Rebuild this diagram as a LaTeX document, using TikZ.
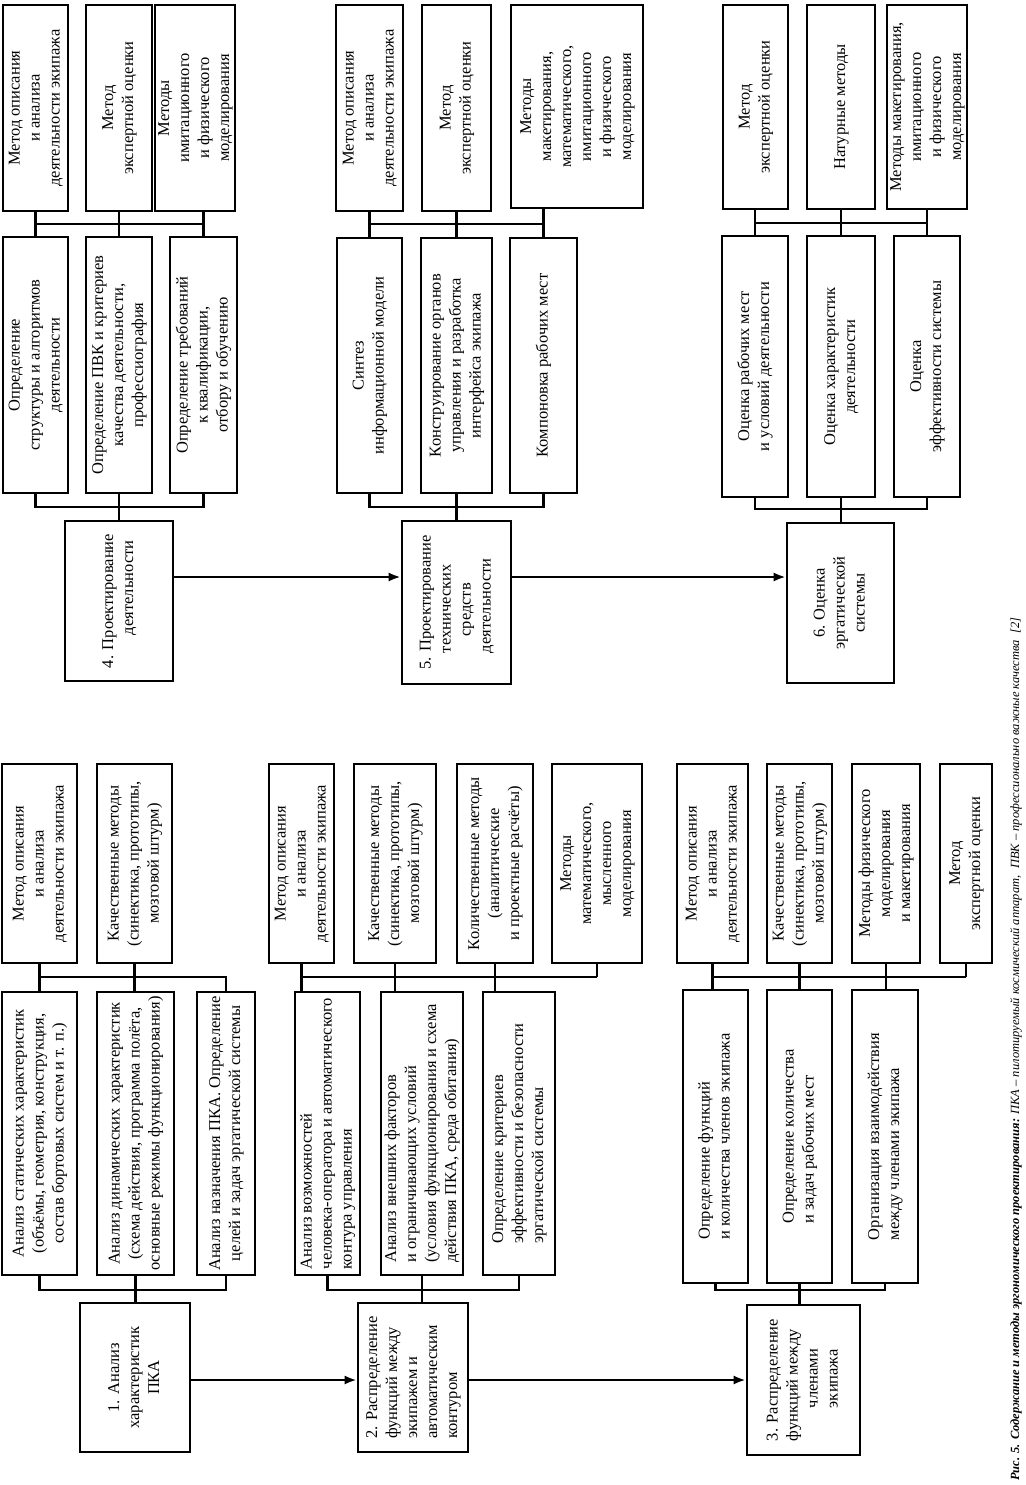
\documentclass[tikz,border=0pt]{standalone}
\usepackage{fontspec}
\setmainfont{Liberation Serif}
\usetikzlibrary{arrows.meta}
\newcommand\rc[1]{\rotatebox{90}{\begin{tabular}{@{}c@{}}#1\end{tabular}}}
\newcommand\rl[1]{\rotatebox{90}{\begin{tabular}{@{}l@{}}#1\end{tabular}}}
\newcommand\bx[6]{\node[bx, minimum width={(#4-#2)*1pt}, minimum height={(#5-#3)*1pt}] (#1) at ({(#2+#4)/2},{(#3+#5)/2}) {#6};}
\tikzset{
  bx/.style={draw, line width=2.6pt, fill=white, inner sep=0pt, font=\fontsize{16.5}{20}\selectfont},
  ln/.style={line width=2.6pt},
  arr/.style={line width=2.4pt, -{Latex[length=12pt,width=9pt]}}
}
\begin{document}
\begin{tikzpicture}[x=1pt,y=-1pt]
\fill[white] (0,0) rectangle (1025,1485);
\useasboundingbox (0,0) rectangle (1025,1485);

% bus levels
\coordinate (u4) at (0,224); \coordinate (d4) at (0,507);
\coordinate (u5) at (0,224); \coordinate (d5) at (0,507);
\coordinate (u6) at (0,223); \coordinate (d6) at (0,509);
\coordinate (ar4) at (0,577);
\coordinate (u1) at (0,977); \coordinate (d1) at (0,1290);
\coordinate (ar1) at (0,1380);

% ---------- group 4 ----------
\bx{m41}{3}{5}{68}{211}{\rc{Метод описания\\и анализа\\деятельности экипажа}}
\bx{m42}{86}{5}{152}{211}{\rc{Метод\\экспертной оценки}}
\bx{m43}{155}{5}{235}{211}{\rc{Методы\\имитационного\\и физического\\моделирования}}
\bx{t41}{3}{237}{68}{493}{\rc{Определение\\структуры и алгоритмов\\деятельности}}
\bx{t42}{86}{237}{152}{493}{\rc{Определение ПВК и критериев\\качества деятельности,\\профессиография}}
\bx{t43}{170}{237}{237}{493}{\rc{Определение требований\\к квалификации,\\отбору и обучению}}
\bx{b4}{65}{521}{173}{681}{\rl{4. Проектирование\\\quad\quad деятельности}}

% ---------- group 5 ----------
\bx{m51}{336}{5}{403}{211}{\rc{Метод описания\\и анализа\\деятельности экипажа}}
\bx{m52}{422}{5}{491}{211}{\rc{Метод\\экспертной оценки}}
\bx{m53}{511}{5}{643}{208}{\rc{Методы\\макетирования,\\математического,\\имитационного\\и физического\\моделирования}}
\bx{t51}{337}{238}{402}{493}{\rc{Синтез\\информационной модели}}
\bx{t52}{421}{238}{492}{493}{\rc{Конструирование органов\\управления и разработка\\интерфейса экипажа}}
\bx{t53}{510}{238}{577}{493}{\rc{Компоновка рабочих мест}}
\bx{b5}{402}{521}{511}{684}{\rl{5. Проектирование\\\quad технических\\\quad\quad средств\\\quad деятельности}}

% ---------- group 6 ----------
\bx{m61}{723}{5}{788}{209}{\rc{Метод\\экспертной оценки}}
\bx{m62}{807}{5}{875}{209}{\rc{Натурные методы}}
\bx{m63}{895}{5}{959}{209}{\rc{Методы макетирования,\\имитационного\\и физического\\моделирования}}
\bx{t61}{722}{236}{788}{497}{\rc{Оценка рабочих мест\\и условий деятельности}}
\bx{t62}{807}{236}{875}{497}{\rc{Оценка характеристик\\деятельности}}
\bx{t63}{894}{236}{960}{497}{\rc{Оценка\\эффективности системы}}
\bx{b6}{787}{523}{894}{683}{\rc{6. Оценка\\эргатической\\системы}}

% ---------- group 1 ----------
\bx{m11}{2}{764}{77}{963}{\rc{Метод описания\\и анализа\\деятельности экипажа}}
\bx{m12}{97}{764}{172}{963}{\rc{Качественные методы\\(синектика, прототипы,\\мозговой штурм)}}
\bx{t11}{2}{992}{77}{1275}{\rc{Анализ статических характеристик\\(объёмы, геометрия, конструкция,\\состав бортовых систем и т. п.)}}
\bx{t12}{97}{992}{174}{1275}{\rc{Анализ динамических характеристик\\(схема действия, программа полёта,\\основные режимы функционирования)}}
\bx{t13}{197}{992}{255}{1275}{\rc{Анализ назначения ПКА. Определение\\целей и задач эргатической системы}}
\bx{b1}{80}{1303}{190}{1452}{\rc{1. Анализ\\характеристик\\ПКА}}

% ---------- group 2 ----------
\bx{m21}{269}{764}{334}{963}{\rc{Метод описания\\и анализа\\деятельности экипажа}}
\bx{m22}{354}{764}{436}{963}{\rc{Качественные методы\\(синектика, прототипы,\\мозговой штурм)}}
\bx{m23}{457}{764}{533}{963}{\rc{Количественные методы\\(аналитические\\и проектные расчёты)}}
\bx{m24}{552}{764}{642}{963}{\rc{Методы\\математического,\\мысленного\\моделирования}}
\bx{t21}{295}{992}{360}{1275}{\rl{Анализ возможностей\\человека-оператора и автоматического\\контура управления}}
\bx{t22}{381}{992}{463}{1275}{\rl{Анализ внешних факторов\\и ограничивающих условий\\(условия функционирования и схема\\действия ПКА, среда обитания)}}
\bx{t23}{483}{992}{555}{1275}{\rl{Определение критериев\\эффективности и безопасности\\эргатической системы}}
\bx{b2}{358}{1303}{468}{1452}{\rl{2. Распределение\\функций между\\экипажем и\\автоматическим\\контуром}}

% ---------- group 3 ----------
\bx{m31}{677}{764}{748}{963}{\rc{Метод описания\\и анализа\\деятельности экипажа}}
\bx{m32}{767}{764}{832}{963}{\rc{Качественные методы\\(синектика, прототипы,\\мозговой штурм)}}
\bx{m33}{852}{764}{920}{963}{\rc{Методы физического\\моделирования\\и макетирования}}
\bx{m34}{940}{764}{992}{963}{\rc{Метод\\экспертной оценки}}
\bx{t31}{683}{990}{748}{1283}{\rl{Определение функций\\и количества членов экипажа}}
\bx{t32}{767}{990}{832}{1283}{\rl{Определение количества\\и задач рабочих мест}}
\bx{t33}{852}{990}{918}{1283}{\rl{Организация взаимодействия\\между членами экипажа}}
\bx{b3}{747}{1305}{860}{1455}{\rl{3. Распределение\\функций между\\\quad\quad членами\\\quad\quad экипажа}}

% ---------- connectors, top half ----------
\foreach \g in {4,5,6}{
  \foreach \i in {1,2,3}{
    \draw[ln] (t\g\i.north) -- (t\g\i.north |- m\g\i.south);
  }
  \draw[ln] (t\g1.north |- u\g) -- (t\g3.north |- u\g);
  \draw[ln] (t\g1.south) -- (t\g1.south |- d\g) -- (t\g3.south |- d\g) -- (t\g3.south);
  \draw[ln] (t\g2.south) -- (t\g2.south |- b\g.north);
}
\draw[arr] (b4.east |- ar4) -- (b5.west |- ar4);
\draw[arr] (b5.east |- ar4) -- (b6.west |- ar4);

% ---------- connectors, bottom half ----------
% group 1
\draw[ln] (m11.south) -- (m11.south |- t11.north);
\draw[ln] (m12.south) -- (m12.south |- t12.north);
\draw[ln] (m11.south |- u1) -- (t13.north |- u1) -- (t13.north);
\draw[ln] (t11.south) -- (t11.south |- d1) -- (t13.south |- d1) -- (t13.south);
\draw[ln] (t12.south) -- (t12.south |- b1.north);
% group 2
\draw[ln] (m21.south) -- (m21.south |- t21.north);
\draw[ln] (m22.south) -- (m22.south |- t22.north);
\draw[ln] (m23.south) -- (m23.south |- t23.north);
\draw[ln] (m24.south) -- (m24.south |- u1);
\draw[ln] (m21.south |- u1) -- (m24.south |- u1);
\draw[ln] (t21.south) -- (t21.south |- d1) -- (t23.south |- d1) -- (t23.south);
\draw[ln] (t22.south) -- (t22.south |- b2.north);
% group 3
\draw[ln] (m31.south) -- (m31.south |- t31.north);
\draw[ln] (m32.south) -- (m32.south |- t32.north);
\draw[ln] (m33.south) -- (m33.south |- t33.north);
\draw[ln] (m34.south) -- (m34.south |- u1);
\draw[ln] (m31.south |- u1) -- (m34.south |- u1);
\draw[ln] (t31.south) -- (t31.south |- d1) -- (t33.south |- d1) -- (t33.south);
\draw[ln] (t32.south) -- (t32.south |- b3.north);

\draw[arr] (b1.east |- ar1) -- (b2.west |- ar1);
\draw[arr] (b2.east |- ar1) -- (b3.west |- ar1);

% ---------- caption ----------
\node[rotate=90, anchor=base west, inner sep=0pt, font=\fontsize{12.5}{15}\selectfont] (cap) at (1019,1481)
  {\textbf{\textit{Рис. 5. Содержание и методы эргономического проектирования:}} \textit{ПКА – пилотируемый космический аппарат,\enspace ПВК – профессионально важные качества}\enspace\textit{[2]}};
\end{tikzpicture}
\end{document}
